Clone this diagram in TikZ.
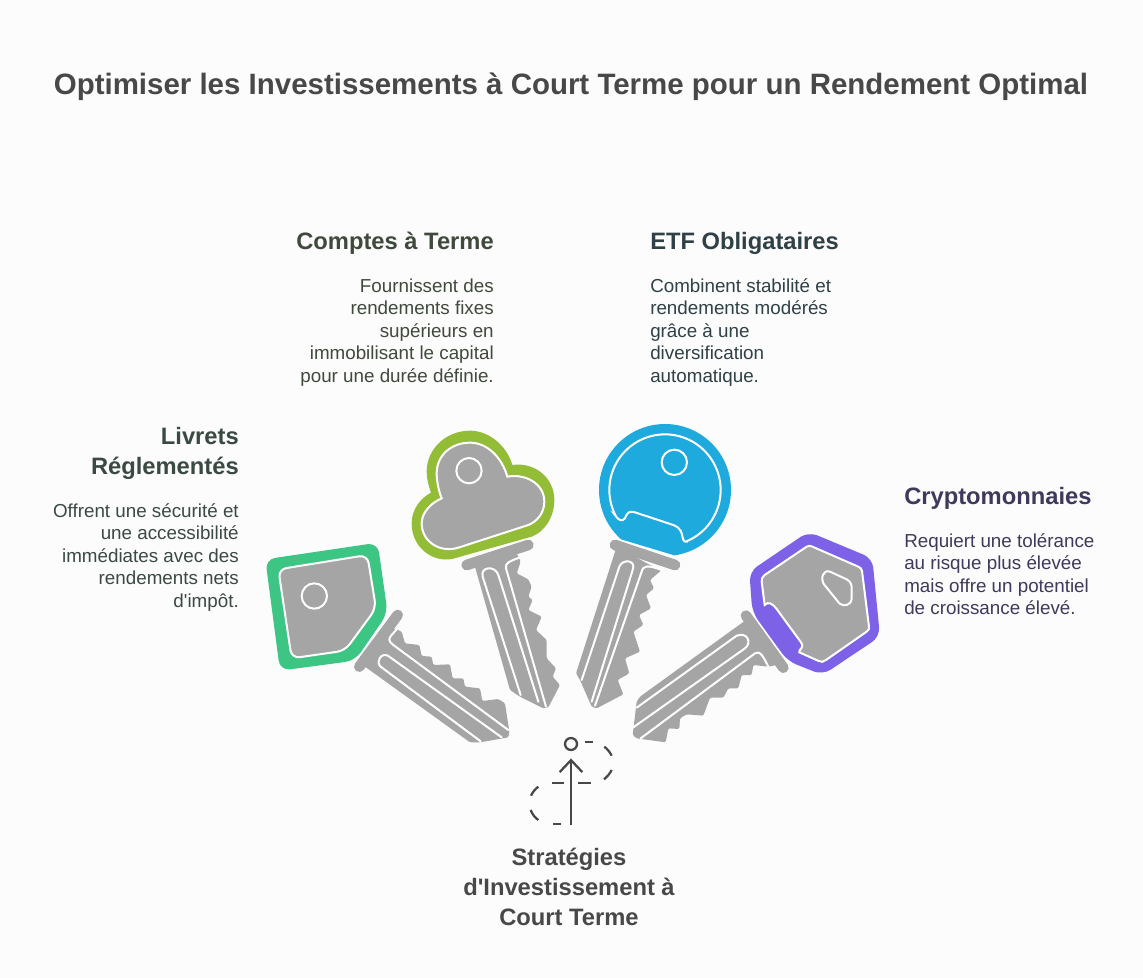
\documentclass[tikz,border=0pt]{standalone}
\usepackage{xcolor}
\usepackage{fontspec}
\newfontfamily\labelfont{Liberation Sans}
\usetikzlibrary{arrows.meta,positioning}

\definecolor{pagebg}{HTML}{FCFCFC}
\definecolor{keygray}{HTML}{A5A5A5}
\definecolor{titleink}{HTML}{484848}
\definecolor{greenink}{HTML}{3A4A42}
\definecolor{oliveink}{HTML}{3F4A3C}
\definecolor{blueink}{HTML}{2F4046}
\definecolor{violetink}{HTML}{40395C}
\definecolor{keygreen}{HTML}{3CC583}
\definecolor{keyolive}{HTML}{93BC37}
\definecolor{keyblue}{HTML}{1EAADC}
\definecolor{keyviolet}{HTML}{7D62E8}

\begin{document}
\begin{tikzpicture}[
    x=0.75pt, y=-0.75pt,
    zoomed/.style 2 args={shift={(#1,#2)}, x=0.25pt, y=-0.25pt},
    titletext/.style={inner sep=0pt, text=titleink, font=\labelfont\fontsize{22.1}{28}\selectfont\bfseries},
    headtext/.style={inner sep=0pt, font=\labelfont\fontsize{17.8}{22.5}\selectfont\bfseries},
    bodytext/.style={inner sep=0pt, font=\labelfont\fontsize{14.1}{16.85}\selectfont},
    keyshaft/.style={fill=keygray, rounded corners=1pt},
    keybar/.style={draw=keygray, line width=8pt, line cap=round, preaction={draw=white, line width=9.5pt}},
    groove/.style={draw=white, line width=1.5pt, line cap=round},
    keyface/.style={fill=keygray, draw=white, line width=1.5pt},
    iconline/.style={draw=titleink, line width=1.7pt}
]
\useasboundingbox (0,0) rectangle (1143,978);
\fill[pagebg] (0,0) rectangle (1143,978);

% Title
\node[titletext] (title) at (571,87) {Optimiser les Investissements à Court Terme pour un Rendement Optimal};

% Comptes a Terme
\node[headtext, text=oliveink, anchor=east] (comptes) at (494,243) {Comptes à Terme};
\node[bodytext, text=oliveink, align=right, below=18pt of comptes.south east, anchor=north east] (comptesbody) {Fournissent des\\rendements fixes\\supérieurs en\\immobilisant le capital\\pour une durée définie.};

% ETF Obligataires
\node[headtext, text=blueink, anchor=west] (etf) at (650,243) {ETF Obligataires};
\node[bodytext, text=blueink, align=left, below=18pt of etf.south west, anchor=north west] (etfbody) {Combinent stabilité et\\rendements modérés\\grâce à une\\diversification\\automatique.};

% Livrets
\node[headtext, text=greenink, align=right, anchor=east] (livrets) at (239,453) {Livrets\\Réglementés};
\node[bodytext, text=greenink, align=right, below=18pt of livrets.south east, anchor=north east] (livretsbody) {Offrent une sécurité et\\une accessibilité\\immédiates avec des\\rendements nets\\d'impôt.};

% Cryptomonnaies
\node[headtext, text=violetink, anchor=west] (crypto) at (904,498) {Cryptomonnaies};
\node[bodytext, text=violetink, align=left, below=18pt of crypto.south west, anchor=north west] (cryptobody) {Requiert une tolérance\\au risque plus élevée\\mais offre un potentiel\\de croissance élevé.};

% Strategies
\node[headtext, text=titleink, align=center] (strategies) at (569,887) {Stratégies\\d'Investissement à\\Court Terme};

% Green key
\begin{scope}[zoomed={250}{530}]
\fill[keygreen, rounded corners=7.5pt] (46,88) -- (383,38) -- (413,250) -- (315,392) -- (90,422) -- cycle;
\path[keyface, rounded corners=6pt] (85,118) -- (352,75) -- (378,235) -- (285,362) -- (125,385) -- cycle;
\path[keyface] (193,198) circle[radius=38];
\path[keybar] (443,255) -- (328,410);
\fill[keyshaft] (400,290) -- (440,298) -- (455,305) -- (465,340) -- (508,345) -- (515,378) -- (545,380) -- (550,405) -- (600,403) -- (608,445) -- (640,445) -- (645,470) -- (690,475) -- (697,513) -- (745,507) -- (765,520) -- (778,605) -- (775,622) -- (690,637) -- (660,637) -- (345,410) -- cycle;
\draw[groove] (692,634) -- (392,410) .. controls (375,395) and (395,365) .. (415,378) -- (755,622);
\draw[groove] (775,600) -- (430,345) .. controls (415,335) and (415,325) .. (425,315) -- (440,298);
\end{scope}

% Olive key
\begin{scope}[zoomed={400}{420}]
\fill[keyolive] (170,413) .. controls (110,435) and (35,390) .. (35,310) .. controls (35,270) and (60,235) .. (93,218) .. controls (85,195) and (80,175) .. (80,155) .. controls (80,85) and (140,32) .. (210,32) .. controls (265,32) and (320,75) .. (337,135) .. controls (400,125) and (463,170) .. (463,240) .. controls (463,290) and (435,335) .. (395,350) -- cycle;
\path[keyface] (175,383) .. controls (120,400) and (65,365) .. (65,310) .. controls (65,280) and (90,250) .. (125,235) .. controls (115,210) and (110,180) .. (110,160) .. controls (110,105) and (155,68) .. (210,68) .. controls (260,68) and (305,110) .. (322,170) .. controls (375,160) and (433,190) .. (433,245) .. controls (433,280) and (410,305) .. (385,315) -- cycle;
\path[keyface] (207,152) circle[radius=38];
\path[keybar] (200,435) -- (385,375);
\fill[keyshaft] (222,430) -- (330,810) -- (360,830) -- (430,865) -- (445,862) -- (480,795) -- (458,770) -- (468,745) -- (440,715) -- (440,660) -- (408,630) -- (425,590) -- (385,570) -- (398,540) -- (385,530) -- (395,500) -- (385,478) -- (350,460) -- (362,425) -- (350,400) -- cycle;
\draw[groove] (362,825) -- (248,470) .. controls (240,440) and (285,435) .. (295,465) -- (415,845);
\draw[groove] (438,860) -- (318,445) .. controls (315,430) and (325,425) .. (360,412);
\end{scope}

% Blue key
\begin{scope}[zoomed={570}{415}]
\begin{scope}
\clip (60,0) -- (500,0) -- (500,477) -- (60,345) -- cycle;
\fill[keyblue] (285,225) circle[radius=198];
\end{scope}
\draw[groove] (135,300) .. controls (145,315) and (155,322) .. (165,310) .. controls (172,290) and (180,288) .. (195,292) -- (310,330) .. controls (335,340) and (335,355) .. (338,368) .. controls (340,380) and (348,382) .. (350,380) -- plot[domain=67:-207, samples=70] ({285+167*cos(\x)},{225+167*sin(\x)}) -- cycle;
\draw[groove] (313,142) circle[radius=38];
\path[keybar] (135,390) -- (315,450);
\fill[keyshaft] (140,395) -- (18,775) -- (30,795) -- (65,875) -- (80,880) -- (160,838) -- (143,795) -- (178,775) -- (165,730) -- (210,710) -- (190,650) -- (220,630) -- (207,600) -- (243,580) -- (228,540) -- (252,520) -- (240,495) -- (275,465) -- (240,450) -- cycle;
\draw[groove] (35,795) -- (148,455) .. controls (158,430) and (200,435) .. (188,465) -- (65,860);
\draw[groove] (75,872) -- (215,470) .. controls (220,450) and (235,450) .. (275,465);
\end{scope}

% Violet key
\begin{scope}[zoomed={620}{525}]
\fill[keyviolet, rounded corners=7pt] (565,20) -- (757,100) -- (780,335) -- (608,450) -- (503,408) -- (397,262) -- (388,140) -- cycle;
\path[keyface] (560,65) .. controls (565,62) and (570,62) .. (575,64) -- (715,125) .. controls (722,128) and (725,132) .. (726,138) -- (747,305) .. controls (748,312) and (746,316) .. (740,320) -- (618,405) .. controls (610,411) and (604,412) .. (596,408) -- (538,382) .. controls (535,370) and (555,372) .. (543,352) -- (470,252) .. controls (458,236) and (445,228) .. (434,240) -- (425,170) .. controls (424,160) and (428,155) .. (434,150) -- cycle;
\path[keyface] (630,140) -- (680,163) .. controls (692,170) and (695,178) .. (695,190) -- (695,222) .. controls (695,238) and (672,248) .. (658,235) -- (612,178) .. controls (600,160) and (610,132) .. (630,140) -- cycle;
\path[keybar] (378,272) -- (490,428);
\fill[keyshaft] (378,285) -- (60,515) -- (50,530) -- (38,630) -- (50,640) -- (137,652) -- (145,610) -- (178,612) -- (180,580) -- (200,568) -- (250,572) -- (270,518) -- (310,518) -- (325,490) -- (355,490) -- (365,450) -- (395,450) -- (400,420) -- (445,425) -- (470,420) -- cycle;
\draw[groove] (50,548) -- (350,332) .. controls (385,320) and (395,355) .. (375,370) -- (40,607);
\draw[groove] (62,640) -- (405,385) .. controls (420,375) and (430,395) .. (445,425);
\end{scope}

% Icon above the last title
\begin{scope}[zoomed={510}{725}]
\node[iconline, circle, fill=none, minimum size=9pt, inner sep=0pt] (startdot) at (183,57) {};
\coordinate (stem) at (183,300);
\draw[iconline, -{Straight Barb[length=9pt, width=17pt]}, shorten >=5.5pt] (stem) -- (startdot.south);
\draw[iconline] (225,50) -- (248,50);
\draw[iconline] (283,65) .. controls (292,72) and (300,82) .. (305,92);
\draw[iconline] (305,135) .. controls (300,145) and (292,155) .. (282,163);
\draw[iconline] (243,175) -- (203,175);
\draw[iconline] (163,175) -- (125,175);
\draw[iconline] (85,185) .. controls (75,192) and (68,202) .. (63,212);
\draw[iconline] (62,255) .. controls (67,268) and (75,278) .. (85,285);
\draw[iconline] (130,297) -- (153,297);
\end{scope}

\end{tikzpicture}
\end{document}
